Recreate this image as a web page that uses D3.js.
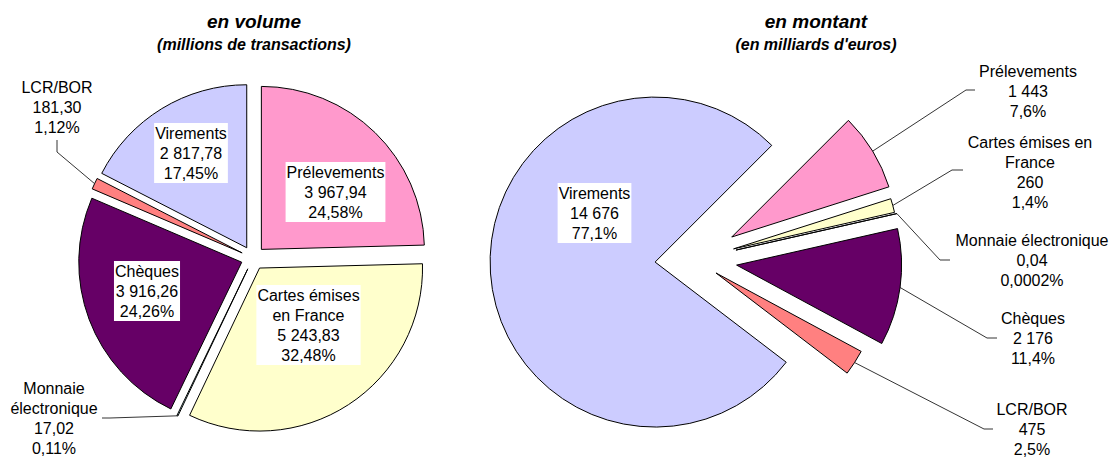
<!DOCTYPE html>
<html>
<head>
<meta charset="utf-8">
<script src="https://cdn.jsdelivr.net/npm/d3@7"></script>
<style>
  body { margin: 0; background: #fff; }
  svg { display: block; font-family: Arial, "Liberation Sans", sans-serif; }
</style>
</head>
<body>
<svg id="chart" width="1113" height="458"></svg>
<script>
// data, in pie order (clockwise from the first slice)
const categories = ['Prélevements', 'Cartes émises en France', 'Monnaie électronique', 'Chèques', 'LCR/BOR', 'Virements'];
const volumeNames = [['Prélevements'], ['Cartes émises', 'en France'], ['Monnaie', 'électronique'], ['Chèques'], ['LCR/BOR'], ['Virements']];
const montantNames = [['Prélevements'], ['Cartes émises en', 'France'], ['Monnaie électronique'], ['Chèques'], ['LCR/BOR'], ['Virements']];
const volumeValues = [3967.94, 5243.83, 17.02, 3916.26, 181.30, 2817.78];
const volumePct = ['24,58%', '32,48%', '0,11%', '24,26%', '1,12%', '17,45%'];
const montantValues = [1443, 260, 0.04, 2176, 475, 14676];
const montantPct = ['7,6%', '1,4%', '0,0002%', '11,4%', '2,5%', '77,1%'];
const colors = ['#ff99cc', '#ffffcc', '#ccffff', '#660066', '#ff8080', '#ccccff'];

const fr = d3.formatLocale({decimal: ',', thousands: ' ', grouping: [3], currency: ['', '']});
const fmt2 = fr.format(',.2f');
const fmt0 = fr.format(',.0f');

const svg = d3.select('#chart');
const color = d3.scaleOrdinal().domain(categories).range(colors);

// layout of each pie and its labels
const charts = [
  {
    title: 'en volume', subtitle: '(millions de transactions)', tx: 254,
    values: volumeValues, pct: volumePct, names: volumeNames, fmt: fmt2,
    cx: 253, cy: 258, r: 163, start: 0,
    explode: [12, 12, 12, 12, 12, 12],
    labels: [
      {x: 335.5, y: 192, box: true},
      {x: 308.5, y: 325, box: true},
      {x: 54, y: 418, leader: [[110, 418], [102, 418]]},
      {x: 147, y: 291, box: true},
      {x: 57, y: 107, leader: [[57, 152], [57, 140]]},
      {x: 191, y: 153, box: true}
    ]
  },
  {
    title: 'en montant', subtitle: "(en milliards d'euros)", tx: 816,
    values: montantValues, pct: montantPct, names: montantNames,
    fmt: v => v < 1 ? fmt2(v) : fmt0(v),
    cx: 695, cy: 259.4, r: 165, start: 45,
    explode: [43, 40, 42, 42, 25, 40],
    labels: [
      {x: 1028, y: 91, leader: [[966, 90], [975, 90]]},
      {x: 1030, y: 172, leader: [[952, 170], [963, 170]]},
      {x: 1032, y: 260, leader: [[940, 260], [950, 260]]},
      {x: 1033, y: 338, leader: [[987, 338], [997, 338]]},
      {x: 1032, y: 429, leader: [[984, 429], [993, 429]]},
      {x: 594.5, y: 213, box: true}
    ]
  }
];

charts.forEach(c => {
  // titles
  svg.append('text')
    .attr('x', c.tx).attr('y', 28)
    .attr('text-anchor', 'middle')
    .style('font-size', '19px').style('font-weight', 'bold').style('font-style', 'italic')
    .text(c.title);
  svg.append('text')
    .attr('x', c.tx).attr('y', 50)
    .attr('text-anchor', 'middle')
    .style('font-size', '16px').style('font-weight', 'bold').style('font-style', 'italic')
    .text(c.subtitle);

  const pie = d3.pie().sort(null)
    .startAngle(c.start * Math.PI / 180)
    .endAngle(c.start * Math.PI / 180 + 2 * Math.PI);
  const arcs = pie(c.values);
  const arc = d3.arc().innerRadius(0).outerRadius(c.r);

  const offset = (d, i, rad) => {
    const a = (d.startAngle + d.endAngle) / 2;
    const k = c.explode[i] + rad;
    return [c.cx + k * Math.sin(a), c.cy - k * Math.cos(a)];
  };

  const g = svg.append('g');
  g.selectAll('path')
    .data(arcs)
    .enter()
    .append('path')
    .attr('transform', (d, i) => 'translate(' + offset(d, i, 0) + ')')
    .attr('d', arc)
    .style('fill', (d, i) => color(categories[i]))
    .style('stroke', '#000')
    .style('stroke-width', 1)
    .style('stroke-linejoin', 'miter');

  // leader lines
  arcs.forEach((d, i) => {
    const lab = c.labels[i];
    if (!lab.leader) return;
    const pts = [offset(d, i, c.r)].concat(lab.leader);
    g.append('path')
      .attr('d', d3.line()(pts))
      .style('fill', 'none')
      .style('stroke', '#000')
      .style('stroke-width', 0.8);
  });

  // labels
  arcs.forEach((d, i) => {
    const lab = c.labels[i];
    const lines = c.names[i].concat([c.fmt(c.values[i]), c.pct[i]]);
    const lg = svg.append('g');
    const rect = lg.append('rect').style('fill', '#fff');
    const t = lg.append('text')
      .attr('text-anchor', 'middle')
      .style('font-size', '16px')
      .style('fill', '#000');
    const n = lines.length;
    lines.forEach((s, j) => {
      t.append('tspan')
        .attr('x', lab.x)
        .attr('y', lab.y + (j - (n - 1) / 2) * 20)
        .attr('dy', '0.35em')
        .text(s);
    });
    if (lab.box) {
      const bb = t.node().getBBox();
      rect.attr('x', bb.x - 1).attr('y', lab.y - n * 10)
        .attr('width', bb.width + 2).attr('height', n * 20);
    } else {
      rect.remove();
    }
  });
});
</script>
</body>
</html>
